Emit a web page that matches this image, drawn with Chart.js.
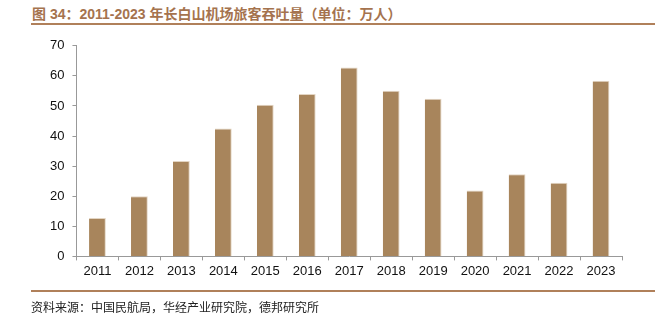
<!DOCTYPE html>
<html lang="zh">
<head>
    <meta charset="UTF-8" />
    <title>长白山机场旅客吞吐量</title>
    <script src="https://cdn.jsdelivr.net/npm/chart.js"></script>
    <style>
        html, body { margin: 0; padding: 0; background: #fff; }
        .page { position: relative; width: 655px; height: 322px; overflow: hidden; }
        .titulo {
            position: absolute; left: 32px; top: 3px; white-space: nowrap;
            font: bold 14px "Liberation Sans", "Noto Sans CJK SC", sans-serif;
            color: #a5734e; text-spacing-trim: space-all;
        }
        .linea { position: absolute; left: 31px; width: 624px; height: 2px; background: #b0805a; }
        .fuente {
            position: absolute; left: 31px; top: 298px; white-space: nowrap;
            font: 12px "Noto Sans CJK SC", sans-serif; color: #222; text-spacing-trim: space-all;
        }
        .grafico { position: absolute; left: 0; top: 30px; width: 655px; height: 262px; }
    </style>
</head>
<body>
    <div class="page">
        <div class="titulo">图 34：2011-2023 年长白山机场旅客吞吐量（单位：万人）</div>
        <div class="linea" style="top: 23px;"></div>
        <div class="grafico"><canvas id="chart"></canvas></div>
        <div class="linea" style="top: 290px;"></div>
        <div class="fuente">资料来源：中国民航局，华经产业研究院，德邦研究所</div>
    </div>

    <script>
        // Datos
        const years = ['2011', '2012', '2013', '2014', '2015', '2016', '2017',
                       '2018', '2019', '2020', '2021', '2022', '2023'];
        const passengers = [12.8, 20.0, 31.7, 42.5, 50.4, 54.0, 62.8,
                            55.1, 52.4, 21.9, 27.3, 24.5, 58.4];
        const yTicks = [0, 10, 20, 30, 40, 50, 60, 70];

        const ctx = document.getElementById('chart').getContext('2d');
        new Chart(ctx, {
            type: 'bar',
            data: {
                labels: years,
                datasets: [{
                    data: passengers,
                    backgroundColor: '#a8855c',
                    borderColor: '#e3d5c3',
                    borderWidth: { top: 1, right: 1, left: 0, bottom: 0 },
                    barPercentage: 0.5,
                    categoryPercentage: 0.8
                }]
            },
            options: {
                responsive: true,
                maintainAspectRatio: false,
                animation: false,
                layout: { padding: { top: 8, left: 42, right: 33, bottom: 10 } },
                plugins: {
                    legend: { display: false },
                    tooltip: { enabled: false }
                },
                scales: {
                    x: {
                        grid: { drawOnChartArea: false, drawTicks: true, tickLength: 4, color: '#999' },
                        border: { color: '#999' },
                        ticks: { color: '#111', font: { family: 'Liberation Sans', size: 13 }, padding: 3 }
                    },
                    y: {
                        min: 0,
                        max: 70,
                        afterBuildTicks: (axis) => { axis.ticks = yTicks.map(v => ({ value: v })); },
                        grid: { drawOnChartArea: false, drawTicks: true, tickLength: 4, color: '#999' },
                        border: { color: '#999' },
                        ticks: { color: '#111', font: { family: 'Liberation Sans', size: 13 }, padding: 8 }
                    }
                }
            }
        });
    </script>
</body>
</html>
